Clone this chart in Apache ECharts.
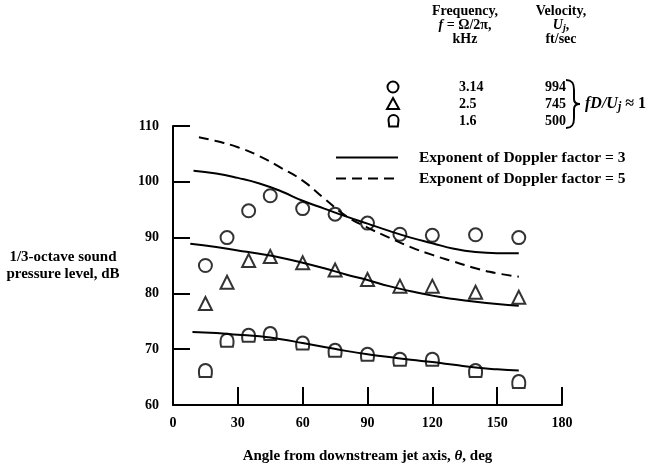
<!DOCTYPE html>
<html>
<head>
<meta charset="utf-8">
<script src="https://cdn.jsdelivr.net/npm/echarts@6/dist/echarts.min.js"></script>
<style>
html, body { margin: 0; padding: 0; background: #fff; }
#main { width: 662px; height: 469px; }
</style>
</head>
<body>
<div id="main"></div>
<script>
// measured angles (deg) and 1/3-octave SPL (dB)
var angles = [15, 25, 35, 45, 60, 75, 90, 105, 120, 140, 160];
var spl314 = [85, 90, 94.8, 97.5, 95.2, 94.2, 92.6, 90.6, 90.4, 90.5, 90];
var spl25 = [78.2, 82, 85.9, 86.6, 85.5, 84.2, 82.5, 81.3, 81.3, 80.2, 79.3];
var spl16 = [66.2, 71.6, 72.5, 72.8, 71.1, 69.8, 69.1, 68.2, 68.2, 66.2, 64.2];

// predicted curves [angle, dB]
var exp3High = [[9.5, 102], [20, 101.5], [30, 100.7], [40, 99.7], [50, 98.3], [60, 96.6], [70, 95.2], [80, 93.8], [90, 92.5], [100, 91.2], [110, 90], [120, 89], [130, 88], [140, 87.4], [150, 87.2], [160, 87.2]];
var exp5High = [[12, 108], [20, 107.3], [30, 106.2], [40, 104.6], [50, 102.5], [60, 100.2], [70, 97], [80, 93.9], [90, 91.8], [100, 90], [110, 88.3], [120, 86.9], [130, 85.7], [140, 84.5], [150, 83.6], [160, 83]];
var exp3Mid = [[8, 88.9], [20, 88.3], [30, 87.7], [40, 87.1], [50, 86.4], [60, 85.5], [70, 84.5], [80, 83.4], [90, 82.4], [100, 81.3], [110, 80.4], [120, 79.6], [130, 79], [140, 78.5], [150, 78.1], [160, 77.8]];
var exp3Low = [[9, 73.1], [20, 72.9], [30, 72.6], [40, 72.3], [50, 71.8], [60, 71.1], [70, 70.4], [80, 69.7], [90, 69.1], [100, 68.6], [110, 68.1], [120, 67.7], [130, 67.2], [140, 66.7], [150, 66.4], [160, 66.2]];

// legend table
var freqs = ['3.14', '2.5', '1.6'];
var velocities = ['994', '745', '500'];

var FONT = '"Liberation Serif", "DejaVu Serif", serif';
var DOME = 'path://M1,10 C-0.5,3 2,0 5,0 C8,0 10.5,3 9,10 Z';
var SOLID = 'Exponent of Doppler factor = 3';
var DASHED = 'Exponent of Doppler factor = 5';

function pairs(ys) {
    return angles.map(function (a, i) { return [a, ys[i]]; });
}

function rich(size) {
    return {
        i: { fontFamily: FONT, fontWeight: 'bold', fontStyle: 'italic', fontSize: size, fill: '#000' },
        b: { fontFamily: FONT, fontWeight: 'bold', fontSize: size, fill: '#000' },
        s: { fontFamily: FONT, fontWeight: 'bold', fontStyle: 'italic', fontSize: size - 4, fill: '#000', padding: [6, 0, 0, 0] }
    };
}

function txt(x, y, text, align, size) {
    return {
        type: 'text', x: x, y: y,
        style: {
            text: text, rich: rich(size || 14),
            font: 'bold ' + (size || 14) + 'px ' + FONT,
            fill: '#000',
            align: align || 'center', textAlign: align || 'center',
            verticalAlign: 'middle', textVerticalAlign: 'middle'
        }
    };
}

var stroke = { fill: 'none', stroke: '#000', lineWidth: 2 };
function curve(x1, y1, c1x, c1y, c2x, c2y, x2, y2) {
    return { type: 'bezierCurve', shape: { x1: x1, y1: y1, cpx1: c1x, cpy1: c1y, cpx2: c2x, cpy2: c2y, x2: x2, y2: y2 }, style: stroke };
}

var markerStyle = { color: 'rgba(0,0,0,0)', borderColor: '#000', borderWidth: 2 };

var rowY = [87, 104, 121];
var graphics = [
    txt(465, 11, '{b|Frequency,}'),
    txt(465, 25, '{i|f}{b| = Ω/2π,}'),
    txt(465, 39, '{b|kHz}'),
    txt(561, 11, '{b|Velocity,}'),
    txt(561, 25, '{i|U}{s|j}{b|,}'),
    txt(561, 39, '{b|ft/sec}'),
    { type: 'circle', shape: { cx: 393, cy: rowY[0], r: 5.5 }, style: stroke },
    { type: 'polygon', shape: { points: [[393, rowY[1] - 6], [399, rowY[1] + 5], [387, rowY[1] + 5]] }, style: stroke },
    { type: 'arc', shape: { cx: 393.5, cy: rowY[2] - 1, r: 5, startAngle: Math.PI, endAngle: 2 * Math.PI }, style: stroke },
    { type: 'polyline', shape: { points: [[388.5, rowY[2] - 1], [389.2, rowY[2] + 5.5], [397.8, rowY[2] + 5.5], [398.5, rowY[2] - 1]] }, style: stroke },
    // brace
    curve(566, 80, 572, 80, 574, 83, 574, 90),
    { type: 'line', shape: { x1: 574, y1: 90, x2: 574, y2: 99 }, style: stroke },
    curve(574, 99, 574, 102, 576, 104, 580, 104),
    curve(580, 104, 576, 104, 574, 106, 574, 109),
    { type: 'line', shape: { x1: 574, y1: 109, x2: 574, y2: 118 }, style: stroke },
    curve(574, 118, 574, 125, 572, 128, 566, 128),
    txt(585, 104, '{i|fD/U}{s|j}{b| ≈ 1}', 'left', 16)
];
freqs.forEach(function (f, i) { graphics.push(txt(459, rowY[i], '{b|' + f + '}', 'left')); });
velocities.forEach(function (v, i) { graphics.push(txt(566, rowY[i], '{b|' + v + '}', 'right')); });

var myChart = echarts.init(document.getElementById('main'));
var option = {
    animation: false,
    backgroundColor: '#fff',
    grid: { left: 173, top: 126, right: 100, bottom: 51 },
    legend: {
        data: [SOLID, DASHED],
        orient: 'vertical',
        left: 330, top: 142,
        itemWidth: 62, itemHeight: 14, itemGap: 0,
        selectedMode: false,
        itemStyle: { opacity: 0 },
        textStyle: { fontFamily: FONT, fontWeight: 'bold', fontSize: 15.5, lineHeight: 21, color: '#000', padding: [0, 0, 0, 16] }
    },
    xAxis: {
        type: 'value', min: 0, max: 180, interval: 30,
        name: 'Angle from downstream jet axis, {i|θ}, deg',
        nameLocation: 'middle', nameGap: 44,
        nameTextStyle: {
            fontFamily: FONT, fontWeight: 'bold', fontSize: 15, color: '#000',
            rich: { i: { fontFamily: FONT, fontWeight: 'bold', fontStyle: 'italic', fontSize: 15, color: '#000' } }
        },
        axisLine: { lineStyle: { color: '#000', width: 2 } },
        axisTick: { inside: true, length: 18, lineStyle: { color: '#000', width: 2 } },
        axisLabel: { margin: 11, color: '#000', fontFamily: FONT, fontWeight: 'bold', fontSize: 14 },
        splitLine: { show: false }
    },
    yAxis: {
        type: 'value', min: 60, max: 110, interval: 10,
        name: '1/3-octave sound\npressure level, dB',
        nameLocation: 'middle', nameRotate: 0, nameGap: 110,
        nameTextStyle: { fontFamily: FONT, fontWeight: 'bold', fontSize: 15, color: '#000', lineHeight: 17, align: 'center', padding: [0, 0, 8, 0] },
        axisLine: { lineStyle: { color: '#000', width: 2 } },
        axisTick: { inside: true, length: 17, lineStyle: { color: '#000', width: 2 } },
        axisLabel: { margin: 14, color: '#000', fontFamily: FONT, fontWeight: 'bold', fontSize: 14 },
        splitLine: { show: false }
    },
    graphic: graphics,
    series: [
        { name: SOLID, type: 'line', data: exp3High, smooth: true, symbol: 'none', lineStyle: { color: '#000', width: 2 }, itemStyle: { color: '#000' } },
        { name: DASHED, type: 'line', data: exp5High, smooth: true, symbol: 'none', lineStyle: { color: '#000', width: 2, type: [10, 6] }, itemStyle: { color: '#000' } },
        { name: SOLID, type: 'line', data: exp3Mid, smooth: true, symbol: 'none', lineStyle: { color: '#000', width: 2 }, itemStyle: { color: '#000' } },
        { name: SOLID, type: 'line', data: exp3Low, smooth: true, symbol: 'none', lineStyle: { color: '#000', width: 2 }, itemStyle: { color: '#000' } },
        { name: '3.14 kHz', type: 'scatter', data: pairs(spl314), symbol: 'circle', symbolSize: 13, itemStyle: markerStyle },
        { name: '2.5 kHz', type: 'scatter', data: pairs(spl25), symbol: 'triangle', symbolSize: 13, itemStyle: markerStyle },
        { name: '1.6 kHz', type: 'scatter', data: pairs(spl16), symbol: DOME, symbolSize: 13, itemStyle: markerStyle }
    ]
};
myChart.setOption(option);
</script>
</body>
</html>
